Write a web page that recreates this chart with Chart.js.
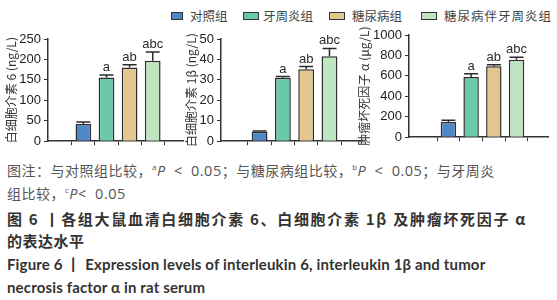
<!DOCTYPE html>
<html>
<head>
<meta charset="utf-8">
<script src="https://cdn.jsdelivr.net/npm/chart.js@4.4.1/dist/chart.umd.min.js"></script>
<style>
  body { margin: 0; width: 557px; height: 300px; overflow: hidden; position: relative; background: #fff;
         font-family: "Noto Sans CJK SC", sans-serif; }
  canvas { position: absolute; }
  .leg { position: absolute; top: 8px; height: 16px; line-height: 16px; font-size: 12.5px; color: #444; white-space: nowrap; }
  .leg i { position: absolute; top: 4px; height: 6px; border: 1.5px solid #333; }
  .cap { position: absolute; left: 7px; white-space: nowrap; height: 22px; line-height: 22px; }
  .note { font-size: 14px; color: #555; letter-spacing: 0.5px; }
  .note .lat { font-family: "Open Sans", sans-serif; font-size: 14.5px; word-spacing: 4px; }
  .note sup { font-size: 8px; vertical-align: 6px; font-style: normal; }
  .head { font-size: 15px; font-weight: bold; color: #333; }
  .eng { font-family: Lato, sans-serif; font-size: 15px; font-weight: bold; color: #333; letter-spacing: 0.15px; }
</style>
</head>
<body>

<div class="leg" style="left:171px"><i style="left:0;width:10px;background:#4f86c6"></i><span style="margin-left:19px">对照组</span></div>
<div class="leg" style="left:243px"><i style="left:0;width:14px;background:#6cc8ab"></i><span style="margin-left:20px">牙周炎组</span></div>
<div class="leg" style="left:329px"><i style="left:0;width:14px;background:#e4c78f"></i><span style="margin-left:23px">糖尿病组</span></div>
<div class="leg" style="left:421px"><i style="left:0;width:14px;background:#c0e5c1"></i><span style="margin-left:23px;letter-spacing:1px">糖尿病伴牙周炎组</span></div>

<canvas id="il6" width="186" height="127" style="left:0;top:25px"></canvas>
<canvas id="il1b" width="187" height="127" style="left:178px;top:25px"></canvas>
<canvas id="tnf" width="197" height="127" style="left:354px;top:21px"></canvas>

<div class="cap note" style="top:156px">图注：与对照组比较，<span class="lat"><sup>a</sup><i>P</i> &lt; 0.05</span>；与糖尿病组比较，<span class="lat"><sup>b</sup><i>P</i> &lt; 0.05</span>；与牙周炎</div>
<div class="cap note" style="top:179px">组比较，<span class="lat"><sup>c</sup><i>P</i>&lt; 0.05</span></div>
<div class="cap head" style="top:208px;letter-spacing:1.7px">图 6 丨各组大鼠血清白细胞介素 6、白细胞介素 1β 及肿瘤坏死因子 α</div>
<div class="cap head" style="top:230px;letter-spacing:0.5px">的表达水平</div>
<div class="cap eng" style="top:253px">Figure 6 丨 Expression levels of interleukin 6, interleukin 1β and tumor</div>
<div class="cap eng" style="top:276px">necrosis factor α in rat serum</div>

<script>
// groups and colours (same order in all three panels)
const groups = ['对照组', '牙周炎组', '糖尿病组', '糖尿病伴牙周炎组'];
const groupColors = ['#4f86c6', '#6cc8ab', '#e4c78f', '#c0e5c1'];
const sigLabels = ['', 'a', 'ab', 'abc'];

// IL-6 (ng/L)
const il6Means = [42, 156, 180, 197];
const il6Errors = [5, 6, 7, 21];
const il6Ticks = [0, 50, 100, 150, 200, 250];

// IL-1beta (ng/L)
const il1bMeans = [4.6, 31, 35.2, 41.6];
const il1bErrors = [0.4, 0.6, 1.3, 3.8];
const il1bTicks = [0, 10, 20, 30, 40, 50];

// TNF-alpha (ug/L)
const tnfMeans = [148, 590, 695, 757];
const tnfErrors = [18, 30, 15, 25];
const tnfTicks = [0, 200, 400, 600, 800, 1000];

// draws the upper error bar and the significance letters above each bar
const errorBarPlugin = {
    id: 'errorBars',
    afterDatasetsDraw(chart) {
        const ctx = chart.ctx;
        const ds = chart.data.datasets[0];
        const yScale = chart.scales.y;
        const bars = chart.getDatasetMeta(0).data;
        ctx.save();
        ctx.strokeStyle = '#2b2b2b';
        ctx.fillStyle = '#2b2b2b';
        ctx.lineWidth = 1.5;
        ctx.font = '13px "Liberation Sans", Arial, sans-serif';
        ctx.textAlign = 'center';
        ctx.textBaseline = 'alphabetic';
        bars.forEach((bar, i) => {
            const top = yScale.getPixelForValue(ds.means[i] + ds.errors[i]);
            ctx.beginPath();
            ctx.moveTo(bar.x, bar.y);
            ctx.lineTo(bar.x, top);
            ctx.moveTo(bar.x - 7, top);
            ctx.lineTo(bar.x + 7, top);
            ctx.stroke();
            if (sigLabels[i]) {
                ctx.fillText(sigLabels[i], bar.x, top - 4);
            }
        });
        ctx.restore();
    }
};

function makePanel(id, means, errors, ticks, title, opt) {
    const ctx = document.getElementById(id).getContext('2d');
    return new Chart(ctx, {
        type: 'bar',
        data: {
            datasets: [{
                label: title,
                data: means.map((v, i) => ({ x: i, y: v })),
                means: means,
                errors: errors,
                backgroundColor: groupColors,
                borderColor: '#2e2e2e',
                borderWidth: 1.5,
                categoryPercentage: 0.8,
                barPercentage: 0.85
            }]
        },
        options: {
            responsive: false,
            animation: false,
            layout: { padding: { top: 14, right: 3, left: 0, bottom: 0 } },
            plugins: { legend: { display: false }, tooltip: { enabled: false } },
            scales: {
                x: {
                    type: 'linear',
                    min: opt.xMin,
                    max: opt.xMax,
                    ticks: { display: false },
                    grid: { drawOnChartArea: false, tickLength: 4, color: '#333' },
                    border: { color: '#333', width: 1.5 },
                    afterBuildTicks: s => { s.ticks = groups.map((g, i) => ({ value: i })); },
                    afterFit: s => { s.height = 6; }
                },
                y: {
                    min: 0,
                    max: ticks[ticks.length - 1],
                    ticks: {
                        font: { family: 'Liberation Sans', size: 13 },
                        color: '#222',
                        padding: 3,
                        callback: v => String(v)
                    },
                    grid: { drawOnChartArea: false, tickLength: 4, color: '#333' },
                    border: { color: '#333', width: 1.5 },
                    title: {
                        display: true,
                        text: title,
                        font: { family: 'Noto Sans CJK SC', size: 12 },
                        color: '#333',
                        padding: { top: opt.titlePad, bottom: 0 }
                    },
                    afterBuildTicks: s => { s.ticks = ticks.map(v => ({ value: v })); },
                    afterFit: s => { s.width = opt.axisW; }
                }
            }
        },
        plugins: [errorBarPlugin]
    });
}

makePanel('il6', il6Means, il6Errors, il6Ticks, '白细胞介素 6 (ng/L)', { xMin: -0.8, xMax: 3.58, axisW: 48, titlePad: 4 });
makePanel('il1b', il1bMeans, il1bErrors, il1bTicks, '白细胞介素 1β (ng/L)', { xMin: -0.9, xMax: 3.64, axisW: 43, titlePad: 6 });
makePanel('tnf', tnfMeans, tnfErrors, tnfTicks, '肿瘤坏死因子 α (μg/L)', { xMin: -0.97, xMax: 3.62, axisW: 55, titlePad: 3 });
</script>
</body>
</html>
